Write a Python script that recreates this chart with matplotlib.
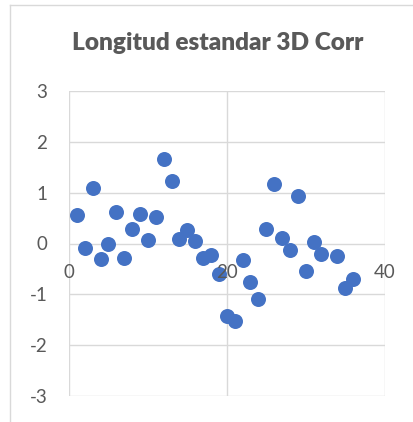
import matplotlib
matplotlib.use("Agg")
import matplotlib.pyplot as plt
from matplotlib.lines import Line2D

plt.rcParams['axes.unicode_minus'] = False

title = "Longitud estandar 3D Corr"
x_vals = [1, 2, 3, 4, 5, 6, 7, 8, 9, 10, 11, 12, 13, 14, 15, 16, 17, 18, 19,
          20, 21, 22, 23, 24, 25, 26, 27, 28, 29, 30, 31, 32, 34, 35, 36]
y_vals = [0.56, -0.08, 1.10, -0.31, -0.01, 0.63, -0.28, 0.28, 0.58, 0.06,
          0.53, 1.66, 1.23, 0.08, 0.26, 0.05, -0.28, -0.23, -0.60, -1.42,
          -1.53, -0.33, -0.75, -1.10, 0.28, 1.18, 0.10, -0.13, 0.93, -0.54,
          0.03, -0.21, -0.24, -0.88, -0.70]
x_ticks = [0, 20, 40]
y_ticks = [-3, -2, -1, 0, 1, 2, 3]

grid_c = "#D9D9D9"
text_c = "#595959"
dot_c = "#4472C4"

W, H = 413, 422
fig = plt.figure(figsize=(W / 100, H / 100), dpi=100)
ax = fig.add_axes([69 / W, (H - 395.7) / H, (384.5 - 69) / W, (395.7 - 91.3) / H])

# chart-area border (left and top visible)
fig.add_artist(Line2D([10 / W, 10 / W], [0, 1 - 5 / H], color=grid_c, lw=1.0,
                      transform=fig.transFigure))
fig.add_artist(Line2D([10 / W, 1], [1 - 5 / H, 1 - 5 / H], color=grid_c, lw=1.0,
                      transform=fig.transFigure))

for yt in y_ticks:
    ax.axhline(yt, color=grid_c, lw=1.0, zorder=1)
for xt in x_ticks:
    ax.axvline(xt, color=grid_c, lw=1.0, zorder=1)

ax.plot(x_vals, y_vals, 'o', color=dot_c, markersize=10.8, markeredgewidth=0,
        zorder=2, clip_on=False)

ax.set_xlim(0, 40)
ax.set_ylim(-3, 3)
ax.set_xticks(x_ticks)
ax.set_yticks(y_ticks)
ax.set_axisbelow(False)
for s in ax.spines.values():
    s.set_visible(False)
ax.spines['bottom'].set_position(('data', 0))
ax.tick_params(axis='both', length=0, labelcolor=text_c, labelsize=13.5)
ax.tick_params(axis='y', pad=15.5)
ax.tick_params(axis='x', pad=15)
for lab in ax.get_xticklabels() + ax.get_yticklabels():
    lab.set_family("Lato")
    lab.set_zorder(5)

fig.text(217.5 / W, 1 - 43 / H, title, ha='center', va='center', fontsize=17.6,
         fontweight='heavy', color=text_c, family="Lato")

fig.savefig("out.png", dpi=100, facecolor="white")
